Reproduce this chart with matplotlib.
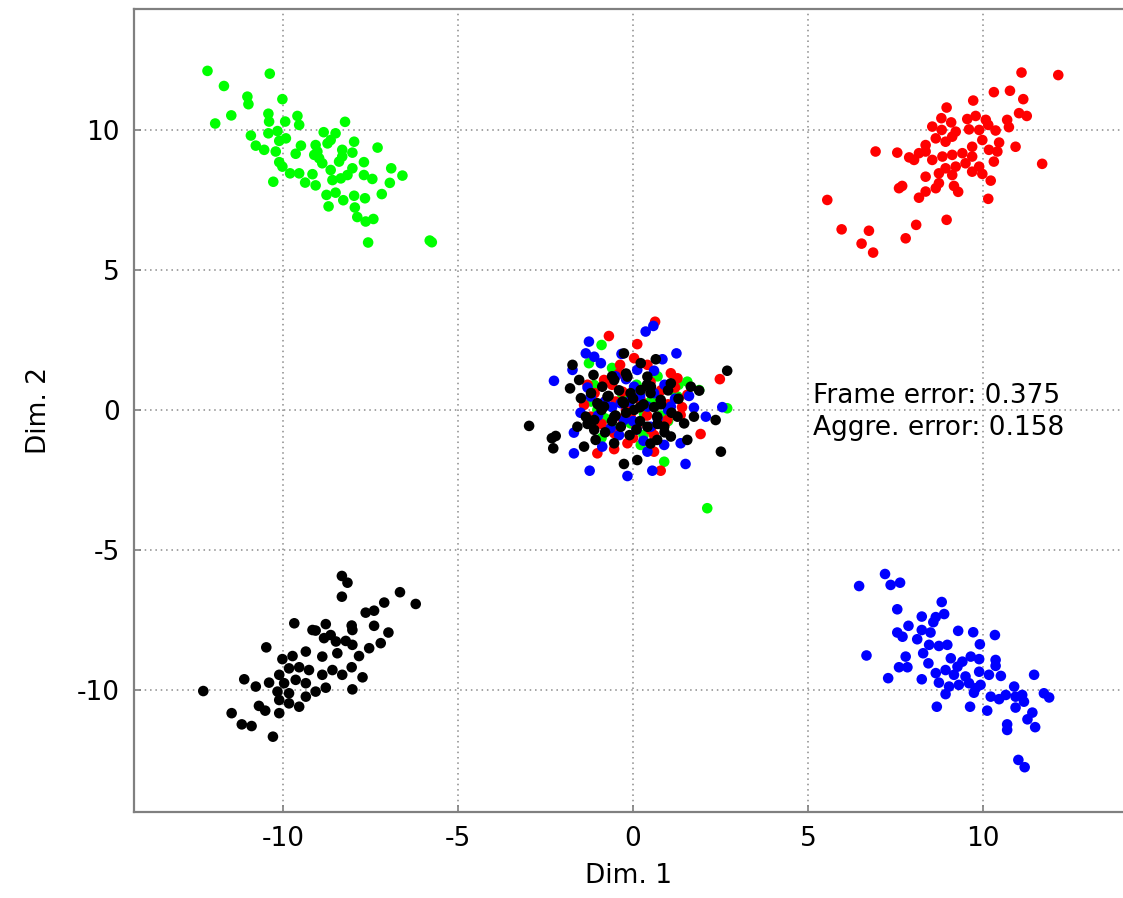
import matplotlib
matplotlib.use("Agg")
import matplotlib.pyplot as plt

# ---------------- data ----------------
green_x = [-12.16, -10.38, -11.69, -11.02, -10.99, -10.02, -11.48, -11.94, -10.42, -9.59,
           -10.40, -9.94, -9.54, -8.23, -10.92, -10.78, -10.42, -10.16, -10.11, -9.92,
           -10.54, -10.21, -9.49, -9.64, -10.11, -10.02, -9.80, -9.54, -10.28, -9.37,
           -9.07, -9.16, -8.84, -8.50, -8.64, -8.73, -9.07, -9.11, -8.97, -8.88,
           -9.02, -7.97, -7.30, -8.31, -8.02, -8.31, -8.40, -8.02, -8.64, -8.59,
           -8.35, -8.16, -7.69, -7.69, -7.45, -6.91, -6.59, -6.95, -8.76, -8.50,
           -8.28, -7.97, -7.66, -7.18, -8.70, -7.95, -7.88, -7.64, -7.42, -7.57,
           -5.81, -5.75,
           # centre
           -0.90, -1.26, 1.55, 1.89, 0.89, 2.12, 2.69, 1.08, -0.54, -1.11,
           0.31, -0.07, 0.60, 1.27, 0.22, -1.02,
           -0.3, 0.5, -0.8, 0.1, 1.0, -0.5, 0.7, -1.2,
           0.3, -0.1, 1.3, -0.6, 0.8, -0.9]
green_y = [12.11, 12.01, 11.57, 11.19, 10.92, 11.10, 10.52, 10.23, 10.58, 10.50,
           10.30, 10.30, 10.18, 10.29, 9.80, 9.44, 9.88, 9.96, 9.61, 9.70,
           9.29, 9.23, 9.44, 9.15, 8.85, 8.69, 8.45, 8.45, 8.15, 8.12,
           8.02, 8.42, 9.92, 9.88, 9.64, 9.52, 9.46, 9.11, 8.99, 8.81,
           9.23, 9.58, 9.37, 9.29, 9.19, 9.05, 8.87, 8.63, 8.57, 8.21,
           8.27, 8.39, 8.85, 8.39, 8.25, 8.63, 8.37, 8.11, 7.68, 7.76,
           7.49, 7.65, 7.56, 7.71, 7.27, 7.23, 6.89, 6.73, 6.82, 5.98,
           6.05, 5.99,
           2.32, 1.67, 1.01, 0.71, -1.85, -3.51, 0.06, 0.71, 1.31, 0.89,
           -0.12, -0.48, 0.24, 0.48, -1.25, 0.00,
           0.5, 0.3, -0.3, 0.9, -0.4, -0.7, 1.2, 0.3,
           -0.9, 0.1, 0.9, 1.5, -0.2, -1.0]

red_x = [11.10, 12.15, 10.31, 10.77, 11.15, 9.72, 8.96, 11.03, 11.25, 8.81,
         9.09, 9.55, 9.79, 10.08, 10.15, 10.69, 10.74, 8.55, 8.82, 9.22,
         9.60, 9.89, 10.36, 10.46, 10.93, 6.93, 7.55, 7.89, 8.17, 8.36,
         8.65, 8.93, 9.12, 8.36, 8.03, 8.55, 8.84, 9.12, 9.41, 9.69,
         9.98, 9.69, 9.89, 10.17, 10.41, 10.31, 9.50, 9.22, 8.93, 8.74,
         8.36, 9.12, 9.69, 9.98, 10.22, 11.69, 7.69, 7.60, 8.74, 8.65,
         8.36, 8.17, 9.17, 9.29, 10.15, 5.55, 8.96, 8.09, 5.96, 6.74,
         7.79, 6.53, 6.86,
         # centre
         0.63, -0.69, 0.12, -0.37, 0.03, 1.27, 2.48, 1.55, 1.93, -1.02,
         -0.54, 0.60, 0.79, -0.83, -1.40, -0.30, 1.08, 0.41, -1.21, -0.07,
         0.98, 1.36, 0.22, 0.51, -0.54, -0.16,
         -0.5, 0.4, -0.9, 0.8, 0.1, -0.3, 1.0, -1.1, 0.6, -0.6,
         0.2, -0.8, 1.2, -0.2, 0.5, -1.3, 0.9, -0.4, 0.0, 1.4]
red_y = [12.05, 11.96, 11.35, 11.40, 11.10, 11.05, 10.80, 10.60, 10.50, 10.42,
         10.27, 10.39, 10.50, 10.36, 10.18, 10.36, 10.10, 10.12, 10.00, 9.94,
         10.02, 10.00, 9.98, 9.55, 9.40, 9.23, 9.19, 9.02, 9.17, 9.46,
         9.70, 9.58, 9.76, 9.23, 8.93, 8.93, 9.05, 9.11, 9.17, 9.40,
         9.64, 9.05, 8.69, 9.29, 9.23, 8.87, 8.81, 8.69, 8.63, 8.45,
         8.33, 8.39, 8.51, 8.43, 8.19, 8.79, 8.00, 7.92, 8.10, 7.92,
         7.80, 7.58, 8.00, 7.79, 7.54, 7.50, 6.79, 6.61, 6.45, 6.40,
         6.13, 5.94, 5.62,
         3.15, 2.64, 2.35, 1.61, 1.85, 1.13, 1.10, 0.54, -0.86, -1.55,
         -1.40, -1.49, -2.17, 1.07, 0.18, 0.65, 1.31, 1.61, -0.24, -0.24,
         -0.36, -0.18, 0.36, -0.71, -0.83, -1.19,
         0.3, -0.2, -0.5, 0.7, -0.6, -0.3, 0.2, 0.6, -0.9, 0.9,
         0.1, 0.3, 0.8, 0.0, 1.0, 0.9, -0.5, 1.3, -1.0, 0.1]

blue_x = [7.20, 6.46, 7.36, 7.63, 7.55, 8.82, 8.89, 8.25, 8.65, 8.58,
          7.87, 7.55, 7.70, 8.12, 8.25, 8.50, 8.46, 8.74, 8.98, 9.29,
          9.72, 9.91, 10.34, 6.67, 7.79, 8.29, 8.44, 7.60, 7.84, 7.29,
          8.25, 8.65, 8.74, 8.93, 9.08, 9.27, 9.41, 9.65, 9.89, 10.36,
          10.36, 9.89, 10.17, 10.51, 11.46, 9.17, 9.50, 9.03, 9.31, 9.60,
          9.79, 9.93, 9.74, 8.93, 10.22, 10.46, 10.65, 10.89, 10.93, 11.12,
          11.17, 11.74, 11.89, 8.68, 9.63, 10.12, 10.93, 11.41, 11.27, 10.69,
          10.69, 11.49, 11.01, 11.19,
          # centre
          0.36, 0.58, -1.26, -1.35, -0.92, -1.11, -0.33, 1.24, 0.84, -2.26,
          -1.73, 0.12, 2.55, 1.74, 2.08, -1.69, -1.24, -0.16, 0.55, 1.50,
          0.89, 1.36, 0.41, -0.88, -1.69, -0.64, -1.21, -0.35, 0.41, 1.08,
          0.03, 0.60, -0.26,
          -0.6, 0.7, -1.0, 0.2, -0.4, 1.2, -0.2, 0.9, -1.3, 0.5,
          -0.8, 0.1, 1.0, -0.1, 0.6, -1.5, 0.3, 1.6, -0.5, 0.0]
blue_y = [-5.86, -6.29, -6.25, -6.17, -7.12, -6.86, -7.29, -7.38, -7.40, -7.58,
          -7.71, -7.95, -8.10, -8.19, -7.86, -7.95, -8.39, -8.43, -8.39, -7.89,
          -7.94, -8.37, -8.04, -8.77, -8.81, -8.69, -9.05, -9.19, -9.19, -9.58,
          -9.62, -9.40, -9.74, -9.29, -8.87, -9.17, -8.99, -8.81, -8.90, -8.93,
          -9.14, -9.35, -9.46, -9.50, -9.46, -9.46, -9.52, -9.88, -9.82, -9.76,
          -9.94, -9.82, -10.10, -10.15, -10.24, -10.33, -10.18, -9.88, -10.24, -10.18,
          -10.42, -10.12, -10.27, -10.60, -10.60, -10.74, -10.63, -10.81, -11.05, -11.23,
          -11.43, -11.33, -12.50, -12.76,
          2.80, 3.00, 2.44, 2.02, 1.67, 1.90, 2.00, 2.02, 1.81, 1.04,
          1.43, 1.43, 0.10, 0.08, -0.24, -1.55, -2.17, -2.36, -2.17, -1.93,
          -1.25, -1.19, -1.49, -1.31, -0.81, -0.65, 0.48, 0.24, 0.12, 0.12,
          0.83, 0.60, -0.36,
          0.1, -0.3, -0.2, 0.5, -0.9, 0.4, 1.1, 0.9, 0.8, -0.6,
          0.3, -0.7, 0.0, 0.3, 1.4, -0.1, -1.1, 0.5, 1.2, -0.4]

black_x = [-8.32, -8.16, -8.32, -6.66, -6.21, -7.11, -7.64, -7.40, -9.68, -9.16,
           -8.78, -8.04, -7.40, -6.99, -10.48, -10.02, -9.73, -9.35, -9.07, -8.83,
           -8.64, -8.49, -8.21, -8.02, -8.02, -8.45, -8.88, -7.83, -7.54, -7.21,
           -9.83, -9.54, -9.26, -8.88, -8.59, -8.31, -8.04, -7.73, -11.11, -10.78,
           -10.40, -10.11, -9.97, -9.64, -9.35, -9.07, -8.78, -8.02, -10.16, -9.83,
           -9.35, -9.83, -9.54, -10.69, -10.51, -10.11, -10.11, -11.47, -11.18, -10.90,
           -10.29, -12.28,
           # centre
           -1.73, -0.26, 0.22, 0.65, -1.13, -1.54, -1.80, 2.69, 1.89, 1.65,
           2.36, 2.51, -2.97, -2.32, -2.21, -2.28, -1.40, -1.07, -0.26, 0.12,
           0.69, 1.55, 1.08, 1.46, 1.74, -0.54, -1.59, -1.35, -1.49, -0.88,
           -0.54, -0.07, 0.51, 0.79, 1.27, 0.03, -0.83, -1.11, -0.35, 0.41,
           0.89, -0.54, 0.41, -0.16, -1.11, 0.69, -0.26, -0.73, 0.22, 1.08,
           -1.02,
           -0.2, 0.3, -0.7, 0.6, -0.4, 0.2, -0.9, 1.1, 0.0, -0.6,
           0.5, -1.3, 0.9, -0.1,
           -0.3, 0.7, -1.0, 0.4, -0.5, 1.3, -0.8, 0.1, -1.2, 0.8,
           -0.2, 0.5, -0.6, 1.0, 0.2]
black_y = [-5.93, -6.17, -6.67, -6.51, -6.93, -6.88, -7.24, -7.17, -7.62, -7.86,
           -7.65, -7.70, -7.71, -7.95, -8.48, -8.90, -8.79, -8.63, -7.88, -8.15,
           -8.04, -8.27, -8.25, -7.86, -8.39, -8.69, -8.81, -8.79, -8.51, -8.33,
           -9.23, -9.19, -9.29, -9.46, -9.29, -9.46, -9.19, -9.55, -9.62, -9.88,
           -9.74, -9.46, -9.76, -9.64, -9.76, -10.06, -9.92, -9.98, -10.06, -10.12,
           -10.24, -10.48, -10.60, -10.57, -10.74, -10.36, -10.83, -10.83, -11.23, -11.29,
           -11.67, -10.04,
           1.61, 2.02, 1.67, 1.81, 1.25, 1.07, 0.77, 1.40, 0.69, 0.83,
           -0.36, -1.49, -0.57, -1.01, -0.93, -1.37, -1.31, -1.07, -1.93, -1.79,
           -1.07, -1.07, -0.95, -0.48, -0.24, -1.19, -0.60, -0.24, 0.42, 0.83,
           1.07, 0.60, 0.83, 0.36, -0.24, 0.00, 0.12, -0.36, -0.60, -0.60,
           -0.60, -0.24, 1.19, 1.19, -0.71, -0.24, 0.24, 0.48, 0.71, 0.95,
           0.24,
           -0.1, 0.2, 0.5, 0.1, 0.7, -0.4, 0.0, -0.1, 0.4, -0.4,
           0.6, -0.5, -0.8, -0.9,
           0.3, -0.5, 0.2, 0.9, -0.2, 0.4, -0.8, -0.7, 0.6, 0.2,
           1.3, -1.2, 1.2, 0.7, 0.1]

x_ticks = [-10, -5, 0, 5, 10]
y_ticks = [-10, -5, 0, 5, 10]
frame_error = 0.375
aggre_error = 0.158

# ---------------- figure ----------------
plt.rcParams['font.family'] = ['DejaVu Sans']
plt.rcParams['axes.unicode_minus'] = False

W, H = 1123, 898
fig = plt.figure(figsize=(W / 100, H / 100), dpi=100)
ax = fig.add_axes([134 / W, (H - 812) / H, 1 - 134 / W, (812 - 9) / H])

ms = 58
ax.scatter(green_x, green_y, s=ms, color='#00ff00', edgecolors='none', zorder=3)
ax.scatter(red_x, red_y, s=ms, color='#ff0000', edgecolors='none', zorder=3)
ax.scatter(blue_x, blue_y, s=ms, color='#0000ff', edgecolors='none', zorder=3)
ax.scatter(black_x, black_y, s=ms, color='#000000', edgecolors='none', zorder=3)

ax.set_xlim(-14.26, 14.0)
ax.set_ylim(-14.36, 14.32)
ax.set_xticks(x_ticks)
ax.set_yticks(y_ticks)
ax.set_xticklabels([str(t) for t in x_ticks])
ax.set_yticklabels([str(t) for t in y_ticks])
ax.grid(True, linestyle=(0, (1, 2.5)), color='#8a8a8a', linewidth=1.1, zorder=0)
ax.tick_params(direction='in', length=5, width=1.2, color='#808080',
               labelsize=19, pad=10)
for s in ['left', 'bottom', 'top']:
    ax.spines[s].set_color('#808080')
    ax.spines[s].set_linewidth(1.6)
ax.spines['right'].set_visible(False)

ax.set_xlabel('Dim. 1', fontsize=19, labelpad=8)
ax.set_ylabel('Dim. 2', fontsize=19, labelpad=18)

ax.text(5.15, 0.5, f'Frame error: {frame_error}', fontsize=19, va='center', ha='left', zorder=4)
ax.text(5.15, -0.64, f'Aggre. error: {aggre_error}', fontsize=19, va='center', ha='left', zorder=4)

fig.savefig('out.png', dpi=100)
